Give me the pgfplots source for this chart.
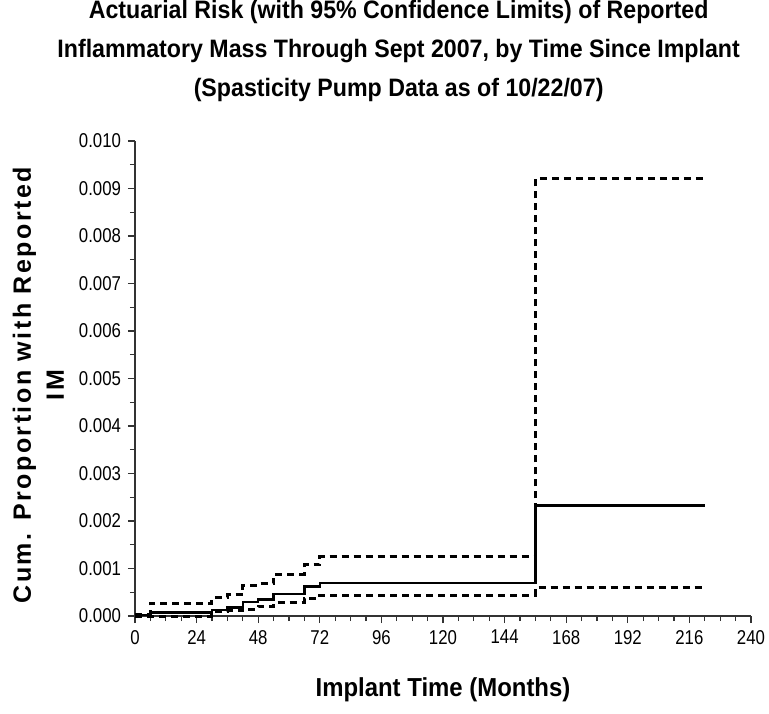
\documentclass[border=0pt]{standalone}
\usepackage{fontspec}
\setmainfont{Liberation Sans}
\newfontfamily\narrowfont[FakeStretch=0.84]{Liberation Sans}
\newfontfamily\titlefont[FakeStretch=0.92]{Liberation Sans}
\usepackage{pgfplots}
\pgfplotsset{compat=1.18}

\begin{document}
\begin{tikzpicture}
\useasboundingbox (-67.5bp,-49bp) rectangle (317bp,308bp);
\begin{axis}[
  anchor=south west, at={(0,0)},
  scale only axis, width=308bp, height=237.5bp,
  xmin=0, xmax=240, ymin=0, ymax=0.010,
  axis x line*=bottom, axis y line*=left,
  axis line style={-, black!80, line width=0.6bp},
  xtick={0,24,...,240}, minor x tick num=3,
  ytick={0,0.001,0.002,0.003,0.004,0.005,0.006,0.007,0.008,0.009,0.010},
  minor y tick num=1,
  tick align=outside, major tick length=3.5bp, minor tick length=2.5bp,
  tick style={black!80, line width=0.6bp},
  scaled y ticks=false,
  yticklabel style={/pgf/number format/.cd, fixed, fixed zerofill, precision=3},
  /pgf/number format/assume math mode=true,
  ticklabel style={font=\narrowfont\fontsize{10bp}{12bp}\selectfont},
  clip=false,
  title={Actuarial Risk (with 95\% Confidence Limits) of Reported\\Inflammatory Mass Through Sept 2007, by Time Since Implant\\(Spasticity Pump Data as of 10/22/07)},
  title style={at={(axis description cs:0.428,1.164)}, anchor=center, align=center,
    font=\titlefont\bfseries\fontsize{12.6bp}{19.5bp}\selectfont},
  xlabel={Implant Time (Months)},
  xlabel style={at={(axis description cs:0.5,-0.156)}, anchor=center,
    font=\titlefont\bfseries\fontsize{13bp}{15bp}\selectfont},
  ylabel={Cum. Proportion with Reported\\IM},
  ylabel style={at={(axis description cs:-0.157,0.486)}, anchor=center, align=center,
    font=\bfseries\fontsize{12.5bp}{16.5bp}\selectfont\addfontfeatures{LetterSpace=10}},
]
% upper 95% limit
\addplot[const plot, black, line width=1.5bp, line cap=butt, dash pattern=on 3.5bp off 2.5bp]
  coordinates {(0,0.00004) (6,0.00027) (30,0.00038) (36,0.00045) (42,0.00065) (48,0.00068)
    (54,0.000875) (66,0.00108) (72,0.00125) (156,0.0092) (222,0.0092)};
% lower 95% limit
\addplot[const plot, black, line width=1.5bp, line cap=butt, dash pattern=on 3.5bp off 2.5bp]
  coordinates {(0,0.0) (30,0.00009) (36,0.00011) (42,0.00014) (48,0.0002) (54,0.00028)
    (66,0.00037) (72,0.00044) (156,0.0006) (222,0.0006)};
% cumulative risk
\addplot[const plot, black, line width=1.2bp]
  coordinates {(0,0.00002) (6,0.00007) (30,0.000125) (36,0.00018) (42,0.00029) (48,0.00035)
    (54,0.00046) (66,0.000625) (72,0.00069) (156,0.00233) (222,0.00233)};
\end{axis}
\end{tikzpicture}
\end{document}
